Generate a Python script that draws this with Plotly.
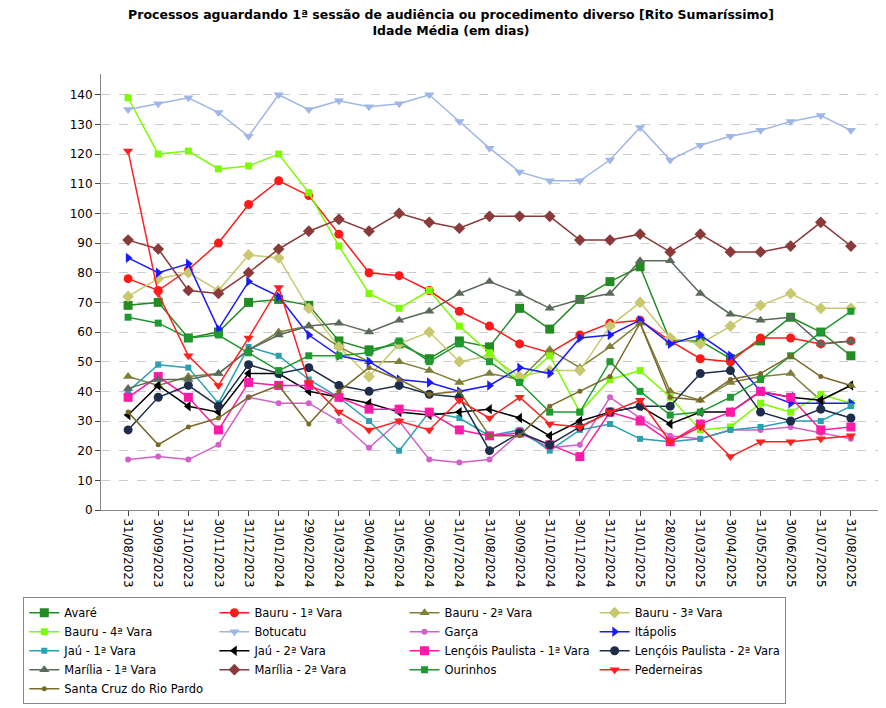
import plotly.graph_objects as go

dates = ["31/08/2023","30/09/2023","31/10/2023","30/11/2023","31/12/2023","31/01/2024","29/02/2024","31/03/2024","30/04/2024","31/05/2024","30/06/2024","31/07/2024","31/08/2024","30/09/2024","31/10/2024","30/11/2024","31/12/2024","31/01/2025","28/02/2025","31/03/2025","30/04/2025","31/05/2025","30/06/2025","31/07/2025","31/08/2025"]

avare = [69,70,58,60,70,71,69,57,54,56,51,57,55,68,61,71,77,82,57,57,51,57,65,60,52]
bauru1 = [78,74,81,90,103,111,106,93,80,79,74,67,62,56,53,59,63,64,57,51,50,58,58,56,57]
bauru2 = [45,42,45,46,54,60,62,55,50,50,47,43,46,44,54,48,55,63,40,37,43,45,46,37,42]
bauru3 = [72,78,80,74,86,85,68,55,45,56,60,50,52,45,47,47,62,70,58,56,62,69,73,68,68]
bauru4 = [139,120,121,115,116,120,107,89,73,68,74,62,53,43,52,33,44,47,38,27,28,36,33,39,36]
botucatu = [135,137,139,134,126,140,135,138,136,137,140,131,122,114,111,111,118,129,118,123,126,128,131,133,128]
garca = [17,18,17,22,38,36,36,30,21,30,17,16,17,26,21,22,38,31,25,24,27,27,28,26,24]
itapolis = [85,80,83,61,77,72,59,52,50,44,43,40,42,48,46,58,59,64,56,59,52,40,36,36,36]
jau1 = [40,49,48,36,55,52,44,38,30,20,33,31,25,27,20,27,29,24,23,24,27,28,30,30,35]
jau2 = [32,42,35,33,46,46,40,38,36,33,32,33,34,31,25,30,33,35,29,33,33,40,38,37,42]
lencois1 = [38,45,38,27,43,42,42,38,34,34,33,27,25,26,22,18,33,30,23,29,33,40,38,27,28]
lencois2 = [27,38,42,35,49,46,48,42,40,42,39,38,20,26,22,28,33,35,35,46,47,33,30,34,31]
marilia1 = [41,44,44,46,54,59,62,63,60,64,67,73,77,73,68,71,73,84,84,73,66,64,65,56,57]
marilia2 = [91,88,74,73,80,88,94,98,94,100,97,95,99,99,99,91,91,93,87,93,87,87,89,97,89]
ourinhos = [65,63,58,59,53,47,52,52,53,57,50,56,50,43,33,33,50,40,32,33,38,44,52,60,67]
pederneiras = [121,73,52,42,58,75,43,33,27,30,27,37,31,38,29,28,33,37,23,28,18,23,23,24,25]
santacruz = [33,22,28,31,38,42,29,40,48,44,39,40,25,25,35,40,45,63,38,37,44,46,52,45,42]

series = [
    ("Avaré", avare, "#228b22", "square", 9),
    ("Bauru - 1ª Vara", bauru1, "#ff1a1a", "circle", 9),
    ("Bauru - 2ª Vara", bauru2, "#7f7f3a", "triangle-up", 9),
    ("Bauru - 3ª Vara", bauru3, "#c8c86e", "diamond", 9),
    ("Bauru - 4ª Vara", bauru4, "#7cfc00", "square", 7),
    ("Botucatu", botucatu, "#9fb6e8", "triangle-down", 9),
    ("Garça", garca, "#d35fc8", "circle", 6),
    ("Itápolis", itapolis, "#1a1aff", "triangle-right", 9),
    ("Jaú - 1ª Vara", jau1, "#2aa0b0", "square", 6),
    ("Jaú - 2ª Vara", jau2, "#000000", "triangle-left", 9),
    ("Lençóis Paulista - 1ª Vara", lencois1, "#ff1aa8", "square", 9),
    ("Lençóis Paulista - 2ª Vara", lencois2, "#1e2e4a", "circle", 9),
    ("Marília - 1ª Vara", marilia1, "#5a6a5a", "triangle-up", 9),
    ("Marília - 2ª Vara", marilia2, "#8b3a3a", "diamond", 9),
    ("Ourinhos", ourinhos, "#1f9a30", "square", 7),
    ("Pederneiras", pederneiras, "#ff2020", "triangle-down", 9),
    ("Santa Cruz do Rio Pardo", santacruz, "#7a6a2a", "circle", 5),
]

fig = go.Figure()
for name, vals, col, sym, sz in series:
    fig.add_trace(go.Scatter(x=dates, y=vals, name=name, mode="lines+markers",
                             line=dict(color=col, width=1.5),
                             marker=dict(symbol=sym, size=sz, color=col)))

fig.update_layout(
    width=886, height=708, plot_bgcolor="white", paper_bgcolor="white",
    font=dict(family="DejaVu Sans", size=12, color="#333"),
    title=dict(text="<b>Processos aguardando 1ª sessão de audiência ou procedimento diverso [Rito Sumaríssimo]<br>Idade Média (em dias)</b>",
               x=0.5, y=0.985, font=dict(size=12.5, color="#000")),
    margin=dict(l=93, r=16, t=66, b=186),
    legend=dict(orientation="h", x=-0.1, y=-0.2, xanchor="left", yanchor="top",
                bordercolor="#888", borderwidth=1, font=dict(size=11.5, color="#000"),
                itemwidth=30, tracegroupgap=0),
    showlegend=True,
)
fig.update_xaxes(type="category", tickangle=90, showgrid=False, showline=True,
                 linecolor="#888", ticks="outside", tickfont=dict(size=12, color="#000"),
                 range=[-0.9, 24.9])
fig.update_yaxes(range=[0, 147], dtick=10, showgrid=True, gridcolor="#ccc", griddash="dash",
                 showline=True, linecolor="#888", ticks="outside", zeroline=False,
                 tickfont=dict(size=12, color="#000"))
fig.write_html("out.html")
